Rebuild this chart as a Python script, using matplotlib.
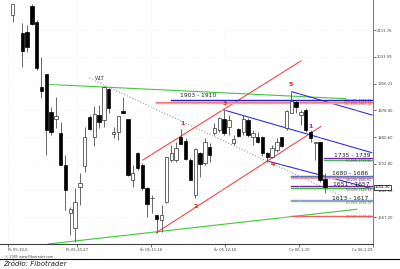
import numpy as np
import matplotlib.pyplot as plt

# daily candles (index = trading day, day 1 has no candle)
idx = [0] + list(range(2, 66))
opens = [2156.3, 2104.8, 2107.7, 2182.6, 2135.1, 1947.4, 1984.4, 1872.8, 1852.4, 1811.6,
         1719.2, 1578.5, 1534.8, 1654.3, 1717.2, 1858.2, 1801.7, 1864.9, 1850.4, 1939.8,
         1808.7, 1814.6, 1876.6, 1852.4, 1675.5, 1753.3, 1719.2, 1651.3, 1622.2, 1573.6,
         1559.0, 1612.3, 1733.8, 1733.8, 1799.9, 1790.1, 1733.8, 1631.8, 1753.3, 1724.2,
         1772.6, 1811.6, 1821.2, 1852.4, 1830.8, 1782.5, 1823.3, 1816.3, 1850.4, 1801.7,
         1801.7, 1801.7, 1755.1, 1743.5, 1762.9, 1799.9, 1827.1, 1871.6, 1903.7, 1864.9,
         1879.5, 1816.3, 1782.5, 1787.1, 1677.6]
highs = [2188.4, 2132.2, 2127.2, 2187.5, 2141.8, 2034.8, 1984.4, 1888.2, 1916.5, 1845.4,
         1748.4, 1597.7, 1651.3, 1695.1, 1830.8, 1864.9, 1891.2, 1894.1, 1949.4, 1942.7,
         1830.8, 1862.0, 1918.3, 1852.4, 1719.2, 1758.0, 1724.2, 1656.0, 1631.8, 1573.6,
         1602.7, 1743.5, 1777.5, 1787.1, 1823.3, 1797.1, 1738.8, 1767.9, 1758.0, 1797.1,
         1782.5, 1840.8, 1860.0, 1879.5, 1864.9, 1806.7, 1826.2, 1864.9, 1855.3, 1821.2,
         1816.3, 1803.7, 1758.0, 1777.5, 1797.1, 1801.7, 1879.5, 1931.9, 1908.6, 1879.5,
         1884.4, 1821.2, 1787.1, 1787.1, 1695.1]
lows = [2136.8, 2005.7, 2049.4, 2127.2, 1996.1, 1913.6, 1748.4, 1806.7, 1826.2, 1719.2,
        1588.1, 1515.3, 1495.7, 1602.7, 1699.7, 1821.2, 1774.6, 1826.2, 1830.8, 1869.9,
        1797.1, 1792.1, 1871.6, 1687.2, 1655.1, 1704.7, 1646.4, 1568.6, 1578.5, 1521.9,
        1524.9, 1609.4, 1728.9, 1728.9, 1780.4, 1733.8, 1675.5, 1623.1, 1685.1, 1719.2,
        1728.9, 1806.7, 1816.3, 1806.7, 1806.7, 1777.5, 1801.7, 1806.7, 1801.7, 1777.5,
        1782.5, 1745.5, 1728.9, 1738.8, 1758.0, 1772.6, 1821.2, 1869.9, 1870.8, 1835.8,
        1816.3, 1787.1, 1733.8, 1670.6, 1636.8]
closes = [2188.4, 2051.4, 2064.0, 2130.1, 2001.0, 1935.7, 1821.4, 1816.3, 1862.9, 1719.2,
          1646.4, 1590.1, 1610.5, 1667.7, 1801.7, 1823.3, 1867.9, 1845.4, 1945.7, 1884.4,
          1816.3, 1862.0, 1871.6, 1690.1, 1695.1, 1709.6, 1651.3, 1605.6, 1624.0, 1561.0,
          1573.6, 1741.7, 1755.1, 1767.9, 1780.4, 1735.9, 1675.5, 1765.0, 1722.1, 1787.1,
          1748.4, 1826.2, 1855.3, 1811.6, 1850.4, 1794.1, 1803.7, 1852.4, 1806.7, 1811.6,
          1787.1, 1753.3, 1741.7, 1767.9, 1787.1, 1774.6, 1876.6, 1906.6, 1887.4, 1874.6,
          1821.2, 1797.1, 1787.1, 1675.5, 1654.3]

yticks = [1567.20, 1645.00, 1722.80, 1800.60, 1878.40, 1956.21, 2033.99, 2111.76]
xtick_pos = [-1, 13.3, 28.9, 44.3, 59.6, 75]
xtick_labels = ['Pt 05-10-6', 'Pt 05-10-27', 'Śr 05-11-16', 'Śr 05-12-10', 'Cz 06-1-10', 'Cz 06-1-29']

# trend lines: (x0, y0, x1, y1, color, style)
trend_lines = [
    (7.05, 1954.4, 69.3, 1912.4, '#3ec83e', '-'),
    (7.4, 1489.0, 71.6, 1590.2, '#3ec83e', '-'),
    (16.0, 1971.9, 68.9, 1626.0, '#a0a0a0', ':'),
    (27.1, 1733.8, 60.0, 2022.3, '#f04848', '-'),
    (29.9, 1521.9, 64.1, 1830.9, '#f04848', '-'),
    (44.0, 1879.5, 74.75, 1755.1, '#3030e0', '-'),
    (58.1, 1932.8, 74.8, 1864.9, '#3030e0', '-'),
    (53.4, 1729.4, 74.8, 1650.2, '#3030e0', '-'),
]

# fibo levels: (price, start, color)
fib_levels = [
    (1910, 33.0, '#2020d0'), (1903, 29.9, '#f07070'), (1901, 29.9, '#f0a0a0'),
    (1739, 64.8, '#8020c0'), (1735, 64.8, '#40c040'),
    (1686, 57.9, '#6060e0'), (1683, 57.9, '#50c050'), (1680, 57.9, '#f0a0a0'),
    (1657, 57.9, '#8020a0'), (1652, 57.9, '#30c030'),
    (1617, 57.9, '#a090e0'), (1613, 57.9, '#60d060'),
    (1570, 57.9, '#f06060'),
]
# small percent tags under the levels
fib_tags = [
    ('100.00% 1910.02', 1907, '#2020d0'), ('161.80% 1903.14', 1897, '#e04040'),
    ('61.80% 1739.06', 1731, '#8020c0'),
    ('38.20% 1685.63', 1675, '#3030d0'),
    ('50.00% 1656.88', 1646, '#8020a0'),
    ('61.80% 1616.70', 1608, '#30a030'),
    ('88.60% 1570.44', 1567, '#e04040'),
]
zones = [('1903 - 1910', 38.7, 1920.3), ('1735 - 1739', 70.7, 1746),
         ('1680 - 1686', 70.2, 1695), ('1651 - 1657', 70.4, 1663),
         ('1613 - 1617', 70.2, 1622)]
wave_labels = [('5', 57.8, 1955, '#e02020'), ('3', 44.2, 1897, '#e02020'),
               ('1', 35.3, 1841.6, '#e02020'), ('2', 38.2, 1597.7, '#e02020'),
               ('4', 54.2, 1721.3, '#e02020'), ('1', 61.9, 1830, '#a020c0')]

fig = plt.figure(figsize=(4, 2.69), dpi=100)
ax = fig.add_axes([0, 0.0929, 0.9325, 0.9071])
ax.set_xlim(-2.63, 74.85)
ax.set_ylim(1489.0, 2200.0)

for x0, y0, x1, y1, c, ls in trend_lines:
    ax.plot([x0, x1], [y0, y1], color=c, lw=0.8, ls=ls, zorder=1)
for p, s, c in fib_levels:
    ax.plot([s, 74.85], [p, p], color=c, lw=1.0, zorder=1)
for t, p, c in fib_tags:
    ax.text(74.6, p, t, fontsize=2.2, ha='right', va='center', color=c, zorder=5)

o = np.array(opens); h = np.array(highs); l = np.array(lows); c = np.array(closes)
x = np.array(idx)
up = c >= o
ax.vlines(x, l, h, color='#505050', lw=0.6, zorder=2)
body = np.maximum(np.abs(c - o), 2.0)
ax.bar(x[up], body[up], bottom=np.minimum(o, c)[up], width=0.7,
       color='white', edgecolor='#303030', lw=0.5, zorder=3)
ax.bar(x[~up], body[~up], bottom=np.minimum(o, c)[~up], width=0.7,
       color='black', edgecolor='black', lw=0.5, zorder=3)

for t, xx, yy in zones:
    ax.text(xx, yy, t, fontsize=4.3, ha='center', va='center', color='#202020', zorder=5)
for t, xx, yy, col in wave_labels:
    ax.text(xx, yy, t, fontsize=4.5, ha='center', va='center', color=col,
            fontweight='bold', zorder=5)
ax.text(18.1, 1970, 'WLT', fontsize=3.6, ha='center', va='center', color='#404040')

ax.spines['top'].set_visible(False)
ax.spines['left'].set_visible(False)
ax.spines['right'].set_color('#808080')
ax.spines['bottom'].set_color('#404040')
ax.spines['right'].set_linewidth(0.8)
ax.spines['bottom'].set_linewidth(0.8)
ax.yaxis.tick_right()
ax.set_yticks(yticks)
ax.set_yticklabels(['%.2f' % v for v in yticks], fontsize=2.7, color='#404040')
ax.set_xticks(xtick_pos)
ax.set_xticklabels(xtick_labels, fontsize=2.7, color='#404040')
ax.get_xticklabels()[0].set_horizontalalignment('left')
ax.get_xticklabels()[-1].set_horizontalalignment('right')
ax.tick_params(length=2, width=0.5, pad=1, colors='#404040')
ax.grid(True, color='#eeeeee', ls=':', lw=0.4)

ax.text(75.3, 1654.3, '1654.30', fontsize=2.7, va='center', ha='left',
        bbox=dict(boxstyle='square,pad=0.2', fc='white', ec='black', lw=0.5), zorder=6)

fig.text(0.012, 0.046, '© 2005 www.Fibotrader.com', fontsize=2.4, color='#404040', va='center')
fig.add_artist(plt.Line2D([0, 1], [0.036, 0.036], color='black', lw=0.8))
fig.text(0.008, 0.019, 'Źródło: Fibotrader', fontsize=5.0, style='italic', color='#202020',
         va='center')

fig.savefig('out.png', dpi=100)
